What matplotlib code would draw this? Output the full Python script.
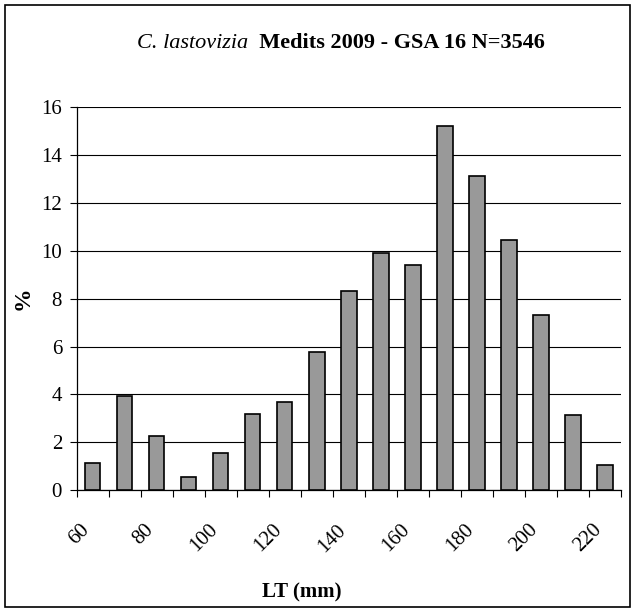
import numpy as np
import matplotlib.pyplot as plt
from matplotlib.patches import Rectangle

# length classes (mm) and percentage frequency
lengths = [60, 70, 80, 90, 100, 110, 120, 130, 140, 150, 160, 170, 180, 190, 200, 210, 220]
percent = [1.15, 3.93, 2.24, 0.53, 1.54, 3.16, 3.69, 5.78, 8.32, 9.93, 9.40, 15.24, 13.14, 10.47, 7.33, 3.13, 1.05]
yticks = [0, 2, 4, 6, 8, 10, 12, 14, 16]

plt.rcParams['font.family'] = ['Liberation Serif', 'DejaVu Serif']

fig = plt.figure(figsize=(6.35, 6.12), dpi=100)
ax = fig.add_axes([0.1208, 0.1993, 0.8571, 0.6253])

x = np.arange(len(lengths))
ax.bar(x, percent, width=0.48, color="#999999", edgecolor="black", linewidth=1.2, zorder=3)

ax.set_xlim(-0.5, len(lengths) - 0.5)
ax.set_ylim(0, 16)
ax.set_yticks(yticks)
ax.set_yticklabels([str(v) for v in yticks])
ax.yaxis.grid(True, color="black", linewidth=0.8, zorder=0)

# ticks at category boundaries, labels every other class
ax.set_xticks(np.arange(len(lengths) + 1) - 0.5)
ax.set_xticklabels([])
ax.set_xticks(x[::2] - 0.4, minor=True)
ax.set_xticklabels([str(v) for v in lengths[::2]], minor=True, rotation=45,
                   ha="right", va="top", rotation_mode="anchor")
ax.tick_params(axis="x", which="major", direction="out", length=5, width=0.8)
ax.tick_params(axis="x", which="minor", length=0, pad=22, labelsize=15)
ax.tick_params(axis="y", direction="out", length=5, width=0.8, labelsize=15, pad=5.5)

for s in ["top", "right"]:
    ax.spines[s].set_visible(False)
ax.spines["left"].set_linewidth(0.9)
ax.spines["bottom"].set_linewidth(0.9)

ax.set_ylabel("%", fontsize=17, fontweight="bold")
ax.yaxis.set_label_coords(-(76.7 - 34) / 544.3, 0.5)
fig.text(302 / 635, 1 - 592 / 612, "LT (mm)", fontsize=15, fontweight="bold", ha="center", va="center")

# title: italic species name followed by bold text
t1 = fig.text(137 / 635, 1 - 43 / 612, "C. lastovizia", fontsize=16, style="italic", ha="left", va="center")
fig.canvas.draw()
ax.annotate("  Medits 2009 - GSA 16 N=3546", xy=(1, 0), xycoords=t1, fontsize=16,
            fontweight="bold", ha="left", va="bottom", annotation_clip=False)

fig.patches.append(Rectangle((5 / 635, 5 / 612), 625 / 635, 602 / 612, transform=fig.transFigure,
                             fill=False, edgecolor="black", linewidth=1.2))

fig.savefig("out.png", dpi=100)
